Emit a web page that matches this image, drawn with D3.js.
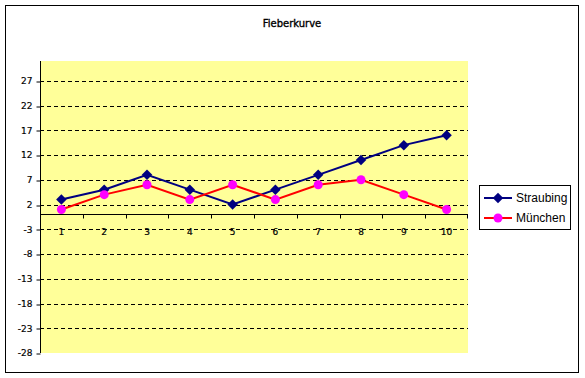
<!DOCTYPE html>
<html>
<head>
<meta charset="utf-8">
<script src="https://cdn.jsdelivr.net/npm/d3@7"></script>
<style>
  body { margin: 0; background: #fff; }
  text { font-family: "Liberation Sans", Arial, sans-serif; }
</style>
</head>
<body>
<div class="chart"></div>
<script>
const categories = ["1", "2", "3", "4", "5", "6", "7", "8", "9", "10"];
const straubing = [3, 5, 8, 5, 2, 5, 8, 11, 14, 16];
const muenchen = [1, 4, 6, 3, 6, 3, 6, 7, 4, 1];
const yTicks = [-28, -23, -18, -13, -8, -3, 2, 7, 12, 17, 22, 27];
const seriesNames = ["Straubing", "München"];

function init() {
    const w = 585;
    const h = 378;

    const svg = d3.select(".chart")
        .append("svg")
        .attr("width", w)
        .attr("height", h);

    // outer frame
    svg.append("rect")
        .attr("x", 5.5).attr("y", 5.5)
        .attr("width", 573).attr("height", 367)
        .attr("fill", "#fff")
        .attr("stroke", "#000");

    svg.append("text")
        .attr("x", 292).attr("y", 27)
        .attr("text-anchor", "middle")
        .style("font-family", "DejaVu Sans, sans-serif")
        .style("font-size", "10px")
        .attr("stroke", "#000")
        .attr("stroke-width", 0.35)
        .text("Fieberkurve");

    const left = 40, right = 468, top = 61, bottom = 353;

    const x = d3.scaleBand().domain(categories).range([left, right]);
    const y = d3.scaleLinear().domain([-28, 31]).range([bottom, top]);
    const cx = c => x(c) + x.bandwidth() / 2;

    svg.append("rect")
        .attr("x", left).attr("y", top)
        .attr("width", right - left).attr("height", bottom - top)
        .attr("fill", "#ffff99");

    // gridlines
    svg.append("g")
        .selectAll("line")
        .data(yTicks.filter(t => t > -28))
        .enter()
        .append("line")
        .attr("x1", left).attr("x2", right)
        .attr("y1", d => Math.round(y(d)) + 0.5)
        .attr("y2", d => Math.round(y(d)) + 0.5)
        .attr("stroke", "#000")
        .attr("stroke-dasharray", "4,3");

    // y axis
    const yAxis = svg.append("g")
        .attr("transform", `translate(${left + 0.5},0)`)
        .call(d3.axisLeft(y).tickValues(yTicks).tickFormat(d => String(d))
            .tickSize(4).tickPadding(4).tickSizeOuter(0));
    yAxis.select(".domain").attr("d", `M0,${top}V${bottom}`);
    yAxis.selectAll(".tick line").attr("transform", d => `translate(0,${Math.round(y(d)) + 0.5 - y(d)})`);
    yAxis.selectAll("text")
        .style("font-size", "9px")
        .style("font-family", "DejaVu Sans, sans-serif")
        .attr("fill", "#000")
        .attr("stroke", "#000")
        .attr("stroke-width", 0.2);

    // x axis at zero
    const y0 = Math.round(y(0)) + 0.5;
    const xAxis = svg.append("g")
        .attr("transform", `translate(0,${y0})`);
    xAxis.append("line")
        .attr("x1", left).attr("x2", right)
        .attr("stroke", "#000");
    xAxis.selectAll(".bt")
        .data(categories.slice(1).concat(["end"]))
        .enter()
        .append("line")
        .attr("class", "bt")
        .attr("x1", d => d === "end" ? right - 0.5 : Math.round(x(d)) + 0.5)
        .attr("x2", d => d === "end" ? right - 0.5 : Math.round(x(d)) + 0.5)
        .attr("y1", 0).attr("y2", 4)
        .attr("stroke", "#000");
    xAxis.selectAll(".lbl")
        .data(categories)
        .enter()
        .append("text")
        .attr("class", "lbl")
        .attr("x", d => cx(d))
        .attr("y", 20)
        .attr("text-anchor", "middle")
        .style("font-size", "9px")
        .style("font-family", "DejaVu Sans, sans-serif")
        .attr("stroke", "#000")
        .attr("stroke-width", 0.2)
        .text(d => d);

    const line = d3.line()
        .x((d, i) => cx(categories[i]))
        .y(d => y(d));

    svg.append("path")
        .datum(straubing)
        .attr("d", line)
        .attr("fill", "none")
        .attr("stroke", "#000080")
        .attr("stroke-width", 2);

    svg.append("path")
        .datum(muenchen)
        .attr("d", line)
        .attr("fill", "none")
        .attr("stroke", "#ff0000")
        .attr("stroke-width", 2);

    const diamond = d3.symbol().type(d3.symbolDiamond2).size(70);

    svg.append("g")
        .selectAll("path")
        .data(straubing)
        .enter()
        .append("path")
        .attr("d", diamond)
        .attr("transform", (d, i) => `translate(${cx(categories[i])},${y(d)})`)
        .attr("fill", "#000080");

    svg.append("g")
        .selectAll("circle")
        .data(muenchen)
        .enter()
        .append("circle")
        .attr("cx", (d, i) => cx(categories[i]))
        .attr("cy", d => y(d))
        .attr("r", 4.5)
        .attr("fill", "#ff00ff");

    // legend
    const legend = svg.append("g");
    legend.append("rect")
        .attr("x", 479.5).attr("y", 185.5)
        .attr("width", 91).attr("height", 44)
        .attr("fill", "#fff")
        .attr("stroke", "#000");

    const colors = [["#000080", "#000080"], ["#ff0000", "#ff00ff"]];
    seriesNames.forEach((name, i) => {
        const ly = 198 + i * 20;
        legend.append("line")
            .attr("x1", 484).attr("x2", 512)
            .attr("y1", ly).attr("y2", ly)
            .attr("stroke", colors[i][0])
            .attr("stroke-width", 2);
        if (i === 0) {
            legend.append("path")
                .attr("d", diamond)
                .attr("transform", `translate(498,${ly})`)
                .attr("fill", colors[i][1]);
        } else {
            legend.append("circle")
                .attr("cx", 498).attr("cy", ly).attr("r", 4.5)
                .attr("fill", colors[i][1]);
        }
        legend.append("text")
            .attr("x", 516).attr("y", ly + 4)
            .style("font-size", "12px")
            .text(name);
    });
}

window.onload = init;
</script>
</body>
</html>
